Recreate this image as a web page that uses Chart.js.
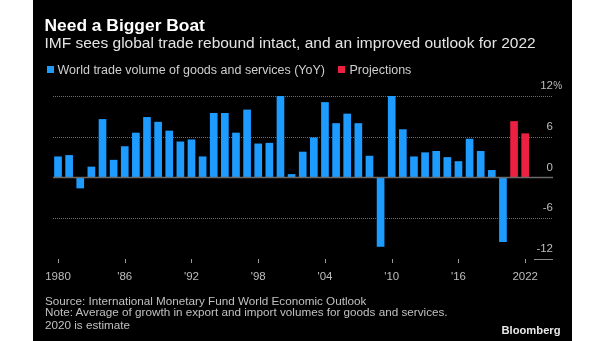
<!DOCTYPE html>
<html>
<head>
<meta charset="utf-8">
<script src="https://cdn.jsdelivr.net/npm/chart.js@4"></script>
<style>
  html, body { margin: 0; padding: 0; background: #fff; width: 605px; height: 341px; overflow: hidden; }
  body { font-family: "Liberation Sans", Arial, sans-serif; }
  #panel { position: absolute; left: 33px; top: 0; width: 539px; height: 341px; background: #000; }
  #chart { position: absolute; left: 0; top: 0; }
  .t { position: absolute; white-space: nowrap; line-height: 1; }
  #title { left: 44.5px; top: 17px; font-size: 17.4px; font-weight: bold; color: #fff; }
  #subtitle { left: 44.5px; top: 35.2px; font-size: 15.5px; color: #e4e4e4; }
  .sw { position: absolute; width: 7.3px; height: 7.3px; top: 66px; }
  .lg { top: 63.9px; font-size: 12.5px; color: #cfcfcf; }
  .foot { left: 45px; font-size: 11.7px; color: #c0c0c0; }
  #brand { left: 501.5px; top: 324.5px; font-size: 11.2px; font-weight: bold; color: #e8e8e8; }
</style>
</head>
<body>
<div id="panel"></div>
<canvas id="chart" width="605" height="341"></canvas>
<div class="t" id="title">Need a Bigger Boat</div>
<div class="t" id="subtitle">IMF sees global trade rebound intact, and an improved outlook for 2022</div>
<div class="sw" style="left:46.7px;background:#1e9bff"></div>
<div class="t lg" style="left:57.5px">World trade volume of goods and services (YoY)</div>
<div class="sw" style="left:337.7px;background:#ec2040"></div>
<div class="t lg" style="left:349.5px">Projections</div>
<div class="t foot" style="top:294.6px">Source: International Monetary Fund World Economic Outlook</div>
<div class="t foot" style="top:306.4px">Note: Average of growth in export and import volumes for goods and services.</div>
<div class="t foot" style="top:319.4px">2020 is estimate</div>
<div class="t" id="brand">Bloomberg</div>
<script>
// World trade volume of goods and services, % change year on year
const histYears = [1980, 1981, 1982, 1983, 1984, 1985, 1986, 1987, 1988, 1989,
                   1990, 1991, 1992, 1993, 1994, 1995, 1996, 1997, 1998, 1999,
                   2000, 2001, 2002, 2003, 2004, 2005, 2006, 2007, 2008, 2009,
                   2010, 2011, 2012, 2013, 2014, 2015, 2016, 2017, 2018, 2019,
                   2020];
const histValues = [3.1, 3.3, -1.6, 1.6, 8.6, 2.6, 4.6, 6.6, 8.9, 8.2,
                    6.9, 5.3, 5.6, 3.1, 9.5, 9.5, 6.6, 10.0, 5.0, 5.1,
                    12.4, 0.5, 3.8, 5.9, 11.1, 8.0, 9.4, 8.0, 3.2, -10.2,
                    12.7, 7.1, 3.1, 3.7, 3.9, 3.0, 2.4, 5.7, 3.9, 1.1,
                    -9.5];

// IMF projections
const projYears = [2021, 2022];
const projValues = [8.3, 6.5];

// Axis ticks
const xTickYears = [1980, 1986, 1992, 1998, 2004, 2010, 2016, 2022];
const xTickLabels = ['1980', "'86", "'92", "'98", "'04", "'10", "'16", '2022'];
const yTickValues = [-12, -6, 0, 6, 12];
const yTickLabels = ['-12', '-6', '0', '6', '12'];

const BLUE = '#1e9bff';
const RED = '#ec2040';
const FONT = '"Liberation Sans", Arial, sans-serif';

const toPoints = (xs, ys) => xs.map((x, i) => ({ x: x, y: ys[i] }));

// Axis furniture: dotted gridlines, zero line, tick marks and labels
const axisDecor = {
  id: 'axisDecor',
  beforeDatasetsDraw(chart) {
    const { ctx, chartArea: a, scales: { y } } = chart;
    ctx.save();
    ctx.strokeStyle = '#6e6e6e';
    ctx.lineWidth = 1;
    ctx.setLineDash([1, 1]);
    yTickValues.forEach(v => {
      if (v === 0 || v === yTickValues[0]) return;
      const py = Math.round(y.getPixelForValue(v)) + 0.5;
      ctx.beginPath();
      ctx.moveTo(a.left, py);
      ctx.lineTo(a.right, py);
      ctx.stroke();
    });
    ctx.restore();
  },
  afterDatasetsDraw(chart) {
    const { ctx, chartArea: a, scales: { x, y } } = chart;
    ctx.save();
    // zero line
    const y0 = y.getPixelForValue(0);
    ctx.strokeStyle = '#6a6a6a';
    ctx.lineWidth = 1.5;
    ctx.beginPath();
    ctx.moveTo(a.left, y0);
    ctx.lineTo(a.right, y0);
    ctx.stroke();

    // short rule under the lowest value label
    const yMin = Math.round(y.getPixelForValue(yTickValues[0])) + 0.5;
    ctx.strokeStyle = '#8a8a8a';
    ctx.lineWidth = 1;
    ctx.beginPath();
    ctx.moveTo(a.right - 19, yMin);
    ctx.lineTo(a.right, yMin);
    ctx.stroke();

    // value labels, sitting above their gridlines
    ctx.fillStyle = '#bdbdbd';
    ctx.textBaseline = 'alphabetic';
    yTickValues.forEach((v, i) => {
      const py = y.getPixelForValue(v) - 7;
      ctx.font = '11.5px ' + FONT;
      ctx.textAlign = 'right';
      ctx.fillText(yTickLabels[i], a.right, py);
      if (i === yTickValues.length - 1) {
        ctx.font = '10px ' + FONT;
        ctx.textAlign = 'left';
        ctx.fillText('%', a.right + 0.3, py);
      }
    });

    // year ticks and labels
    ctx.strokeStyle = '#9a9a9a';
    ctx.lineWidth = 1;
    ctx.font = '11.5px ' + FONT;
    ctx.textAlign = 'center';
    xTickYears.forEach((yr, i) => {
      const px = Math.round(x.getPixelForValue(yr)) + 0.5;
      ctx.beginPath();
      ctx.moveTo(px, a.bottom);
      ctx.lineTo(px, a.bottom + 4);
      ctx.stroke();
      ctx.fillText(xTickLabels[i], x.getPixelForValue(yr), a.bottom + 20.5);
    });
    ctx.restore();
  }
};

new Chart(document.getElementById('chart'), {
  type: 'bar',
  data: {
    datasets: [
      {
        label: 'World trade volume of goods and services (YoY)',
        data: toPoints(histYears, histValues),
        backgroundColor: BLUE
      },
      {
        label: 'Projections',
        data: toPoints(projYears, projValues),
        backgroundColor: RED
      }
    ]
  },
  options: {
    responsive: false,
    animation: false,
    devicePixelRatio: 1,
    layout: { padding: { left: 53, right: 52, top: 96, bottom: 82 } },
    datasets: {
      bar: { grouped: false, categoryPercentage: 1, barPercentage: 0.69, borderWidth: 0 }
    },
    scales: {
      x: { type: 'linear', min: 1979.55, max: 2024.5, offset: false, display: false },
      y: { type: 'linear', min: -12, max: 12, display: false }
    },
    plugins: {
      legend: { display: false },
      tooltip: { enabled: false }
    }
  },
  plugins: [axisDecor]
});
</script>
</body>
</html>
